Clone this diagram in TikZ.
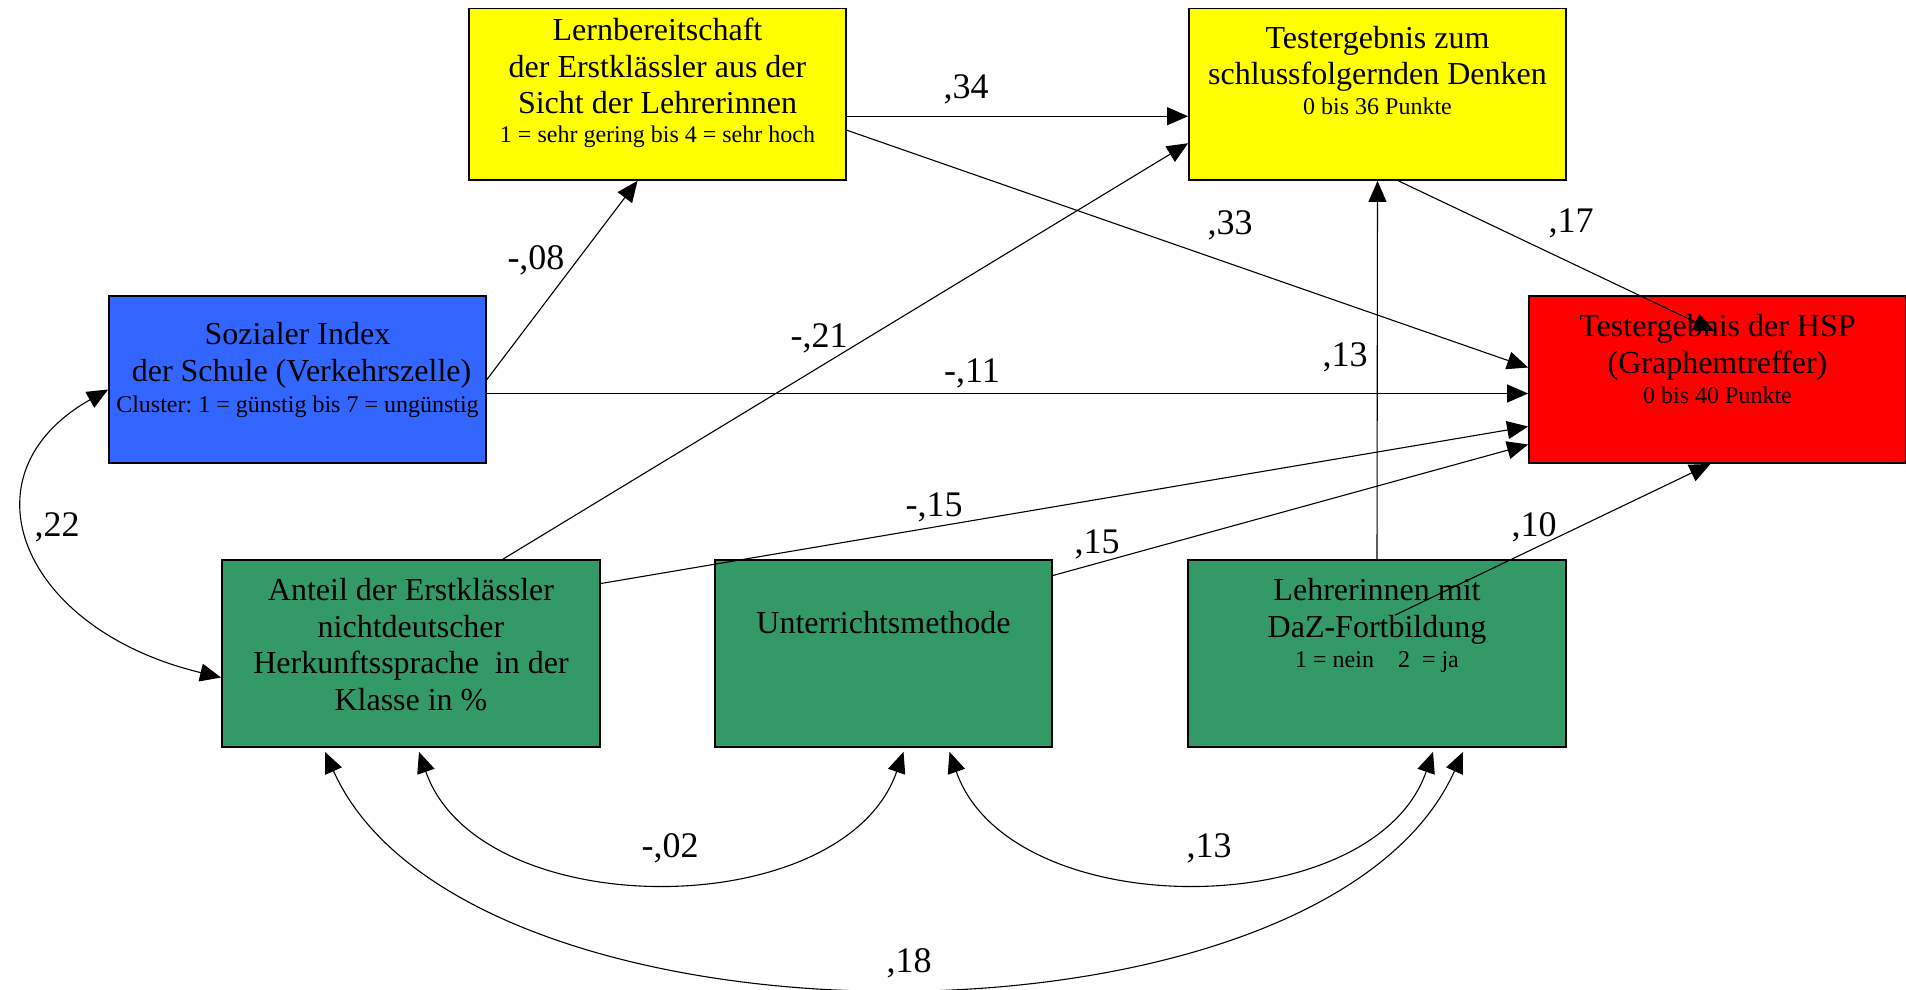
\documentclass[tikz,border=0pt]{standalone}
\usepackage{fontspec}
\setmainfont{Liberation Serif}
\usetikzlibrary{arrows.meta}
\frenchspacing

\definecolor{gelb}{RGB}{255,255,0}
\definecolor{rot}{RGB}{255,0,0}
\definecolor{blau}{RGB}{51,102,255}
\definecolor{gruen}{RGB}{51,153,102}

\begin{document}
\begin{tikzpicture}[x=0.5pt, y=-0.5pt,
    box/.style={draw=black, line width=0.9pt, minimum width=188.5pt, minimum height=85.75pt, inner sep=0pt},
    txt/.style={align=center, inner sep=0pt, anchor=north, font=\fontsize{16}{18.3}\selectfont},
    pfad/.style={line width=0.55pt, -{Triangle[length=10.5pt, width=9pt]}},
    korr/.style={line width=0.55pt, {Triangle[length=10.5pt, width=9pt]}-{Triangle[length=10.5pt, width=9pt]}},
    koeff/.style={inner sep=0pt, font=\fontsize{18}{20}\selectfont}]
        \def\klein{\fontsize{12}{14}\selectfont}
        \useasboundingbox (0,0) rectangle (1906,990);

        % Kaesten oben und Mitte
        \node[box, fill=gelb] (lern) at (657.5,94.25) {};
        \node[box, fill=gelb] (test) at (1377.5,94.25) {};
        \node[box, fill=blau, minimum height=83.5pt] (soz) at (297.5,379.5) {};
        \node[box, fill=rot, minimum height=83.5pt] (hsp) at (1717.5,379.5) {};

        % Kaesten unten
        \node[box, fill=gruen, minimum width=189pt, minimum height=93.5pt] (anteil) at (411,653.5) {};
        \node[box, fill=gruen, minimum width=168.5pt, minimum height=93.5pt] (unt) at (883.5,653.5) {};
        \node[box, fill=gruen, minimum width=189pt, minimum height=93.5pt] (lehr) at (1377,653.5) {};

        % Beschriftung der Kaesten
        \node[txt] (lernT) at ([yshift=-5pt]lern.north) {Lernbereitschaft\\der Erstklässler aus der\\Sicht der Lehrerinnen\\[-3.8pt]{\klein 1 = sehr gering bis 4 = sehr hoch}};
        \node[txt] (testT) at ([yshift=-9pt]test.north) {Testergebnis zum\\schlussfolgernden Denken\\[-3.5pt]{\klein 0 bis 36 Punkte}};
        \node[txt] (sozT) at ([yshift=-13.5pt]soz.north) {Sozialer Index\\\ der Schule (Verkehrszelle)\\[-2.5pt]{\klein Cluster: 1 = günstig bis 7 = ungünstig}};
        \node[txt] (hspT) at ([yshift=-9.5pt]hsp.north) {Testergebnis der HSP\\(Graphemtreffer)\\[-3.3pt]{\klein 0 bis 40 Punkte}};
        \node[txt] (anteilT) at ([yshift=-9.5pt]anteil.north) {Anteil der Erstklässler\\nichtdeutscher\\Herkunftssprache\ \ in der\\Klasse in \%};
        \node[txt] (untT) at ([yshift=-26pt]unt.north) {Unterrichtsmethode};
        \node[txt] (lehrT) at ([yshift=-9.5pt]lehr.north) {Lehrerinnen mit\\DaZ-Fortbildung\\[-3.3pt]{\klein 1 = nein\quad 2\ \ = ja}};

        % Pfade
        \draw[pfad] (soz.east) -- ([xshift=-10pt]lern.south);
        \draw[pfad] ([yshift=-11pt]lern.east) -- ([yshift=-11pt]test.west);
        \draw[pfad] ([yshift=-18pt]lern.east) -- ([yshift=6pt]hsp.west);
        \draw[pfad] ([yshift=-7pt]soz.east) -- ([yshift=-7pt]hsp.west);
        \draw[pfad] ([xshift=46pt]anteil.north) -- ([yshift=-24.5pt]test.west);
        \draw[pfad] ([yshift=35pt]anteil.east) -- ([yshift=-23.5pt]hsp.west);
        \draw[pfad] ([yshift=39pt]unt.east) -- ([yshift=-32.5pt]hsp.west);
        \draw[pfad] (lehr.north) -- (test.south);
        \draw[pfad] ([xshift=10.5pt]test.south) -- ([xshift=-1.5pt, yshift=-18pt]hsp.north);
        \draw[pfad] ([xshift=9pt, yshift=-28pt]lehr.north) -- ([xshift=-3.5pt]hsp.south);

        % Korrelationen
        \draw[korr] ([yshift=-5pt]soz.west) .. controls +(-150,85) and +(-200,-48) .. ([yshift=-12pt]anteil.west);
        \draw[korr] ([xshift=4pt, yshift=-2pt]anteil.south) .. controls +(60,173) and +(-60,173) .. ([xshift=10pt, yshift=-2pt]unt.south);
        \draw[korr] ([xshift=33pt, yshift=-2pt]unt.south) .. controls +(60,173) and +(-60,173) .. ([xshift=28pt, yshift=-2pt]lehr.south);
        \draw[korr] ([xshift=-43pt, yshift=-2pt]anteil.south) .. controls +(140,313) and +(-140,313) .. ([xshift=43pt, yshift=-2pt]lehr.south);

        % Koeffizienten
        \node[koeff] (k08) at (536,260) {-,08};
        \node[koeff] (k34) at (966,89) {,34};
        \node[koeff] (k33) at (1230,225) {,33};
        \node[koeff] (k11) at (972,373) {-,11};
        \node[koeff] (k21) at (819,338) {-,21};
        \node[koeff] (k15a) at (934,507) {-,15};
        \node[koeff] (k15b) at (1097,544) {,15};
        \node[koeff] (k13a) at (1345,357) {,13};
        \node[koeff] (k17) at (1571,223) {,17};
        \node[koeff] (k10) at (1534,527) {,10};
        \node[koeff] (k22) at (57,527) {,22};
        \node[koeff] (k02) at (670,848) {-,02};
        \node[koeff] (k13b) at (1209,848) {,13};
        \node[koeff] (k18) at (909,963) {,18};
\end{tikzpicture}
\end{document}
